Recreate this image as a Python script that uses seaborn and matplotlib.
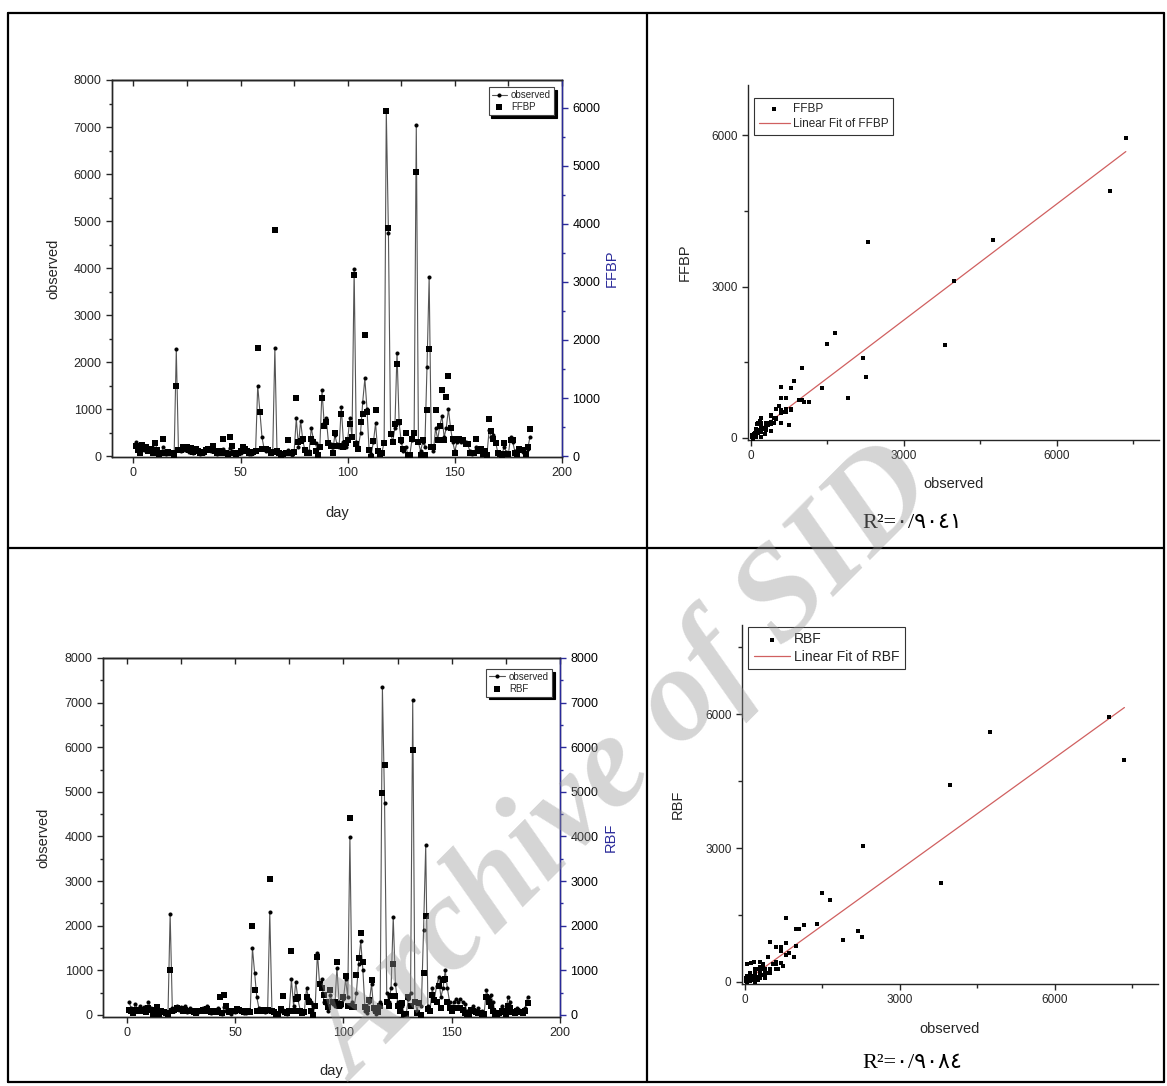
import numpy as np
import matplotlib
matplotlib.use("Agg")
import matplotlib.pyplot as plt
import seaborn as sns
from matplotlib.lines import Line2D
from matplotlib.ticker import MultipleLocator

# daily discharge (days 1..185)
observed = [300, 150, 80, 250, 120, 200, 100, 180, 60, 300,
            150, 50, 80, 200, 40, 100, 80, 60, 20, 2270,
            150, 100, 200, 120, 180, 90, 200, 60, 150, 100,
            40, 80, 60, 120, 150, 100, 200, 80, 50, 100,
            60, 150, 40, 30, 180, 100, 60, 30, 80, 60,
            150, 100, 80, 50, 40, 60, 100, 1500, 950, 400,
            150, 100, 120, 60, 80, 2300, 100, 60, 30, 40,
            80, 120, 60, 30, 100, 800, 200, 750, 350, 120,
            60, 100, 600, 350, 280, 50, 200, 1400, 700, 800,
            300, 250, 100, 450, 250, 200, 1050, 300, 200, 350,
            800, 400, 3980, 300, 200, 500, 1150, 1650, 1000, 100,
            50, 300, 700, 100, 30, 80, 300, 7350, 4750, 500,
            300, 600, 2200, 700, 300, 100, 200, 50, 30, 350,
            500, 7050, 300, 100, 300, 200, 1900, 3800, 200, 100,
            600, 350, 650, 850, 400, 600, 1000, 600, 300, 100,
            300, 350, 300, 350, 300, 250, 100, 50, 80, 200,
            100, 150, 60, 100, 50, 550, 400, 450, 300, 80,
            60, 30, 200, 80, 50, 400, 300, 100, 60, 150,
            120, 80, 50, 150, 400]

ffbp = [180, 100, 60, 190, 120, 150, 90, 130, 60, 220,
        110, 40, 60, 300, 50, 70, 60, 50, 20, 1210,
        110, 100, 160, 140, 160, 100, 140, 70, 130, 90,
        50, 60, 70, 100, 120, 100, 170, 90, 60, 80,
        50, 300, 50, 40, 330, 180, 60, 30, 60, 80,
        150, 120, 90, 60, 50, 70, 80, 1860, 760, 130,
        120, 120, 100, 50, 70, 3890, 80, 60, 20, 40,
        60, 280, 60, 50, 70, 1000, 250, 260, 300, 100,
        50, 60, 300, 250, 80, 20, 150, 1000, 520, 580,
        220, 170, 60, 400, 180, 170, 720, 150, 230, 280,
        560, 320, 3120, 200, 120, 580, 720, 2090, 760, 100,
        -20, 260, 790, 90, 40, 60, 230, 5950, 3930, 380,
        250, 560, 1580, 580, 280, 130, 400, 10, 10, 300,
        400, 4900, 240, 20, 270, 10, 790, 1840, 150, 160,
        790, 270, 520, 1130, 280, 1010, 1380, 490, 290, 50,
        280, 300, 270, 280, 200, 200, 50, 50, 60, 300,
        80, 120, 40, 80, 20, 630, 430, 300, 230, 50,
        30, 20, 220, 30, 30, 280, 270, 60, 40, 120,
        100, 100, 30, 150, 460]

rbf = [120, 100, 50, 120, 100, 110, 100, 90, 60, 150,
       120, 30, 60, 180, 30, 80, 60, 50, 20, 1000,
       80, 120, 150, 130, 140, 100, 120, 80, 100, 90,
       60, 50, 80, 100, 110, 90, 140, 80, 70, 90,
       60, 100, 400, 40, 440, 200, 70, 80, 100, 90,
       130, 110, 100, 70, 60, 80, 70, 2000, 550, 100,
       90, 100, 110, 80, 120, 3050, 100, 60, 20, 30,
       130, 430, 60, 50, 80, 1430, 100, 360, 400, 80,
       40, 70, 400, 300, 100, 10, 200, 1300, 700, 600,
       450, 300, 180, 550, 300, 280, 1180, 200, 250, 400,
       880, 200, 4420, 180, 180, 900, 1280, 1830, 1190, 180,
       130, 340, 780, 150, 100, 60, 200, 4980, 5600, 280,
       200, 420, 1150, 420, 200, 100, 270, 20, 20, 400,
       200, 5930, 290, 50, 270, 10, 950, 2220, 130, 100,
       450, 330, 300, 650, 150, 780, 800, 280, 150, 100,
       150, 160, 150, 160, 120, 40, 30, 30, 120, 80,
       60, 50, 50, 30, 20, 400, 300, 200, 100, 30,
       30, 40, 100, 60, 20, 200, 150, 60, 50, 80,
       60, 70, 40, 100, 270]

days = list(range(1, len(observed) + 1))

r2_ffbp = "R\u00b2=\u0660/\u0669\u0660\u0664\u0661"
r2_rbf = "R\u00b2=\u0660/\u0669\u0660\u0668\u0664"

sns.set_style("ticks")
plt.rcParams['font.family'] = ['Liberation Sans', 'DejaVu Sans']
plt.rcParams['axes.linewidth'] = 1.0

W, H = 1167, 1086
fig = plt.figure(figsize=(W / 100, H / 100), dpi=100)


def rect(x0, y0, x1, y1):
    # pixel box -> figure fraction
    return [x0 / W, 1 - y1 / H, (x1 - x0) / W, (y1 - y0) / H]


# table frame
for xs, ys in [([8, 1164], [13, 13]), ([8, 1164], [548, 548]), ([8, 1164], [1082, 1082]),
               ([8, 8], [13, 1082]), ([647, 647], [13, 1082]), ([1164, 1164], [13, 1082])]:
    fig.add_artist(Line2D([x / W for x in xs], [1 - y / H for y in ys],
                          color="k", lw=1.6, transform=fig.transFigure))

blue = "#2a2a9a"


def series_panel(box, model, name, ylo, rtop, xleft, leg_anchor, rlabel_x):
    ax = fig.add_axes(rect(*box))
    sns.lineplot(x=days, y=observed, ax=ax, color="#555555", lw=0.8, marker="o",
                 ms=2.2, mfc="k", mec="k", label="observed")
    ax.set_xlim(xleft, 200)
    ax.set_ylim(ylo, 8000)
    ax.xaxis.set_major_locator(MultipleLocator(50))
    ax.xaxis.set_minor_locator(MultipleLocator(25))
    ax.yaxis.set_major_locator(MultipleLocator(1000))
    ax.yaxis.set_minor_locator(MultipleLocator(500))
    ax.tick_params(which="both", direction="out", labelsize=9, width=1)
    ax.tick_params(which="major", length=4)
    ax.tick_params(which="minor", length=2.5)
    ax.tick_params(axis="x", which="minor", length=0)
    top = ax.secondary_xaxis("top")
    top.xaxis.set_major_locator(MultipleLocator(25))
    top.tick_params(direction="in", labeltop=False, length=4, width=1)
    ax.set_xlabel("day", fontsize=10.5)
    ax.set_ylabel("observed", fontsize=10.5, va="center")
    ax.yaxis.set_label_coords(-0.13, 0.5)
    ax.xaxis.set_label_coords(0.5, -0.13)

    ax2 = ax.twinx()
    sns.scatterplot(x=days, y=model, ax=ax2, marker="s", s=14, color="k",
                    linewidth=0, label=name, zorder=3)
    ax2.set_ylim(ylo * rtop / 8000, rtop)
    ax2.yaxis.set_major_locator(MultipleLocator(1000))
    ax2.yaxis.set_minor_locator(MultipleLocator(500))
    ax2.spines["right"].set_color(blue)
    ax2.tick_params(axis="y", which="both", direction="out", color=blue,
                    labelcolor="k", labelsize=9, width=1)
    ax2.tick_params(which="major", length=4)
    ax2.tick_params(which="minor", length=2.5)
    ax2.set_ylabel(name, color=blue, fontsize=10.5, va="center")
    ax2.yaxis.set_label_coords(rlabel_x, 0.5)

    h1, l1 = ax.get_legend_handles_labels()
    h2, l2 = ax2.get_legend_handles_labels()
    ax.get_legend().remove()
    leg = ax2.legend(h1 + h2, l1 + l2, loc="upper right", bbox_to_anchor=leg_anchor,
                     borderaxespad=0, fontsize=7, handlelength=1.6, handletextpad=0.4,
                     borderpad=0.3, labelspacing=0.2, fancybox=False,
                     shadow={"color": "k", "alpha": 1}, framealpha=1)
    leg.get_frame().set_edgecolor("#444444")
    leg.get_frame().set_linewidth(0.8)
    return ax


def scatter_panel(box, model, name, ylim, leg_anchor, leg_size, tsize):
    ax = fig.add_axes(rect(*box))
    sns.scatterplot(x=observed, y=model, ax=ax, marker="s", s=9, color="k",
                    linewidth=0, label=name, zorder=3)
    sns.regplot(x=np.array(observed, dtype=float), y=np.array(model, dtype=float),
                ax=ax, scatter=False, ci=None, truncate=True,
                line_kws=dict(color="#d06060", lw=0.9))
    ax.lines[-1].set_label("Linear Fit of " + name)
    ax.set_xlim(-50, 8000)
    ax.set_ylim(*ylim)
    ax.spines[["top", "right"]].set_visible(False)
    for loc in (ax.xaxis, ax.yaxis):
        loc.set_major_locator(MultipleLocator(3000))
        loc.set_minor_locator(MultipleLocator(1500))
    ax.tick_params(which="both", direction="out", labelsize=tsize, width=1)
    ax.tick_params(which="major", length=4)
    ax.tick_params(which="minor", length=3)
    ax.set_xlabel("observed", fontsize=10.5, va="center")
    ax.set_ylabel(name, fontsize=10.5, va="center")
    ax.yaxis.set_label_coords(-0.155, 0.5)
    ax.xaxis.set_label_coords(0.5, -0.125)
    handles, labels = ax.get_legend_handles_labels()
    leg = ax.legend(handles, labels, loc="upper left", bbox_to_anchor=leg_anchor,
                    borderaxespad=0, fontsize=leg_size, handlelength=2.6,
                    handletextpad=0.3, borderpad=0.4, labelspacing=0.25,
                    fancybox=False, framealpha=1)
    leg.get_frame().set_edgecolor("#333333")
    leg.get_frame().set_linewidth(0.8)
    return ax


series_panel((112, 80, 562, 457), ffbp, "FFBP", -20, 6478, -10, (0.982, 0.981), 1.11)
series_panel((103, 658, 560, 1017), rbf, "RBF", -45, 8000, -11, (0.982, 0.97), 1.11)
scatter_panel((748, 85, 1159, 440), ffbp, "FFBP", (-40, 7000), (0.015, 0.963), 8.5, 8.5)
scatter_panel((742, 625, 1158, 984), rbf, "RBF", (-45, 8000), (0.015, 0.995), 10, 8.5)

serif_arabic = ["Liberation Serif", "DejaVu Sans"]
fig.text(912 / W, 1 - 523 / H, r2_ffbp, ha="center", va="center", fontsize=16,
         family=serif_arabic, color="k")
fig.text(912 / W, 1 - 1063 / H, r2_rbf, ha="center", va="center", fontsize=16,
         family=serif_arabic, color="k")

# watermark across the page
fig.text(625 / W, 1 - 765 / H, "Archive of SID", ha="center", va="center",
         rotation=45, fontsize=96, fontweight="bold", fontstyle="italic",
         family="Liberation Serif", color="#969696", alpha=0.4, zorder=10)

fig.savefig("out.png", dpi=100)
